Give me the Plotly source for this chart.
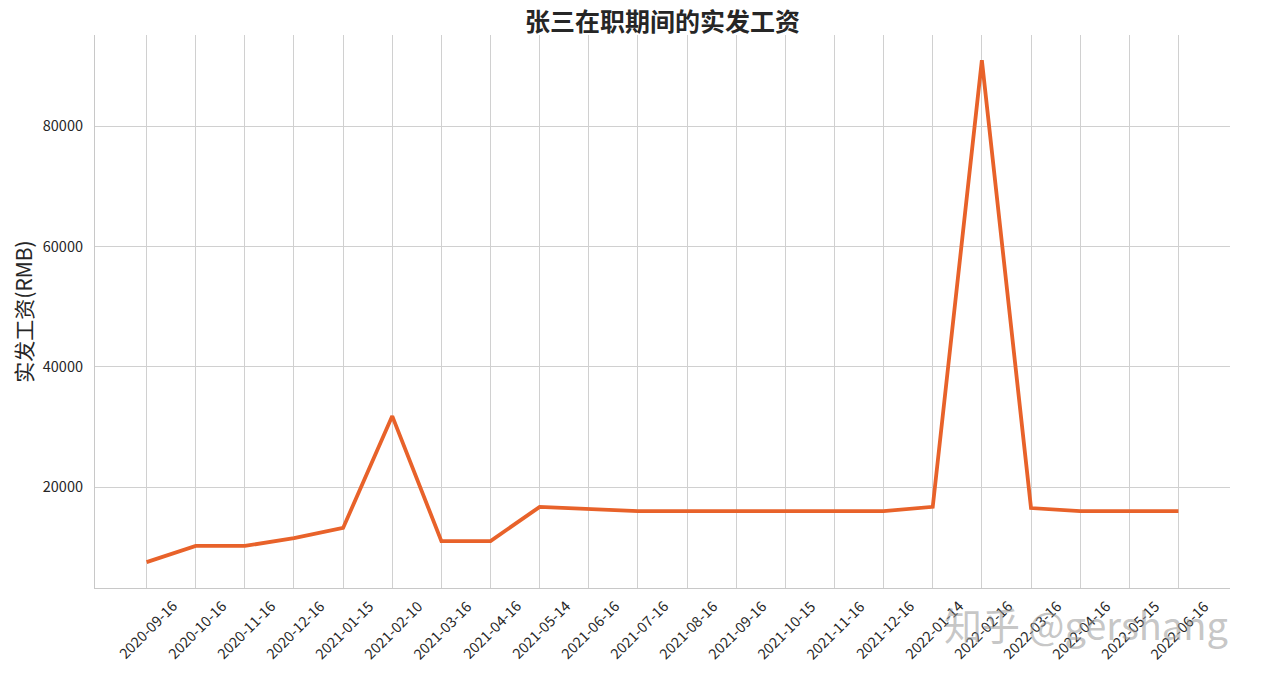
import plotly.graph_objects as go

dates = ["2020-09-16", "2020-10-16", "2020-11-16", "2020-12-16", "2021-01-15",
         "2021-02-10", "2021-03-16", "2021-04-16", "2021-05-14", "2021-06-16",
         "2021-07-16", "2021-08-16", "2021-09-16", "2021-10-15", "2021-11-16",
         "2021-12-16", "2022-01-14", "2022-02-16", "2022-03-16", "2022-04-16",
         "2022-05-15", "2022-06-16"]
salary = [7500, 10200, 10200, 11500, 13200,
          31800, 11000, 11000, 16700, 16400,
          16000, 16000, 16000, 16000, 16000,
          16000, 16700, 91000, 16500, 16000,
          16000, 16000]
y_ticks = [20000, 40000, 60000, 80000]

FONT = "Noto Sans CJK SC, Microsoft YaHei, sans-serif"
W, H = 1263, 676

fig = go.Figure()
fig.add_trace(go.Scatter(
    x=dates, y=salary, mode="lines",
    line=dict(color="#E8622A", width=3.8),
    showlegend=False,
))

fig.update_layout(
    width=W, height=H,
    paper_bgcolor="white", plot_bgcolor="white",
    margin=dict(l=87, r=41, t=27, b=96),
    title=dict(text="<b>张三在职期间的实发工资</b>", xref="paper", x=0.5, xanchor="center",
               yref="container", y=1 - 14.5 / H, yanchor="middle",
               font=dict(family=FONT, size=25, color="#262626")),
    font=dict(family=FONT, color="#262626"),
)
fig.update_xaxes(
    type="category", range=[-1.05, 22.05],
    showticklabels=False,
    showgrid=True, gridcolor="#d0d0d0", gridwidth=1,
    showline=True, linecolor="#c8c8c8", linewidth=1.2,
    ticks="", zeroline=False, automargin=False,
)
fig.update_yaxes(
    range=[3200, 95200], tickvals=y_ticks, tickformat="d",
    tickfont=dict(size=14.5, color="#262626"), ticklabelstandoff=8,
    title=dict(text="实发工资(RMB)", font=dict(size=21, color="#262626"), standoff=7),
    showgrid=True, gridcolor="#d0d0d0", gridwidth=1,
    showline=True, linecolor="#c8c8c8", linewidth=1.2,
    ticks="", zeroline=False, automargin=False,
)

# x tick labels, rotated 45 degrees and centred on each category tick
for d in dates:
    fig.add_annotation(
        text=d, x=d, xref="x", y=0, yref="paper",
        xanchor="center", yanchor="middle", yshift=-41,
        textangle=-45, showarrow=False,
        font=dict(family=FONT, size=14.5, color="#262626"),
    )

fig.add_annotation(
    text="知乎 @gershang", xref="paper", yref="paper",
    x=1.0, y=-0.065, xanchor="right", yanchor="middle", showarrow=False,
    font=dict(family=FONT, size=38, color="rgba(150,150,150,0.55)"),
)

fig.write_html("out.html")
